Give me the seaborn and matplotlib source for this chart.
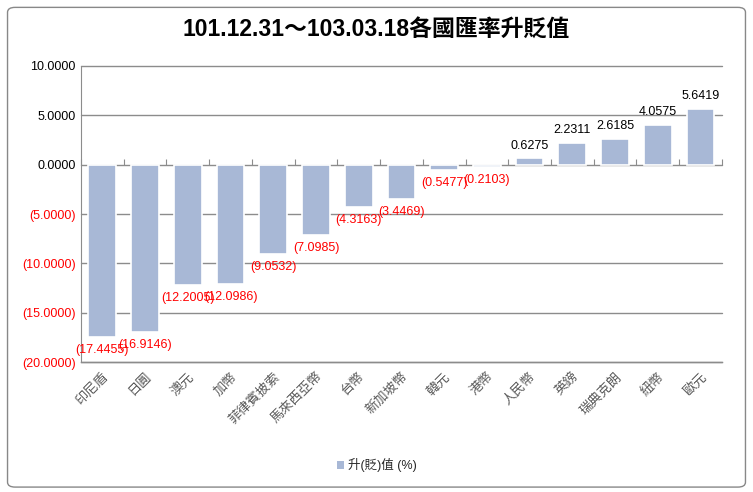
import matplotlib
matplotlib.use("Agg")
import matplotlib.pyplot as plt
import seaborn as sns
import pandas as pd
from matplotlib.patches import FancyBboxPatch, Patch

# data
currencies = ['印尼盾', '日圓', '澳元', '加幣', '菲律賓披索', '馬來西亞幣', '台幣', '新加坡幣',
              '韓元', '港幣', '人民幣', '英鎊', '瑞典克朗', '紐幣', '歐元']
change = [-17.4455, -16.9146, -12.2005, -12.0986, -9.0532, -7.0985, -4.3163, -3.4469,
          -0.5477, -0.2103, 0.6275, 2.2311, 2.6185, 4.0575, 5.6419]
y_ticks = [10, 5, 0, -5, -10, -15, -20]
series_name = '升(貶)值 (%)'

df = pd.DataFrame({'currency': currencies, 'change': change})

sns.set_style('white')
plt.rcParams['font.family'] = ['Liberation Sans', 'Noto Sans CJK TC', 'DejaVu Sans']

bar_color = '#A8B8D6'

fig = plt.figure(figsize=(7.53, 4.92), dpi=100)
ax = fig.add_axes([0.1076, 0.264, 0.851, 0.602])

sns.barplot(data=df, x='currency', y='change', color=bar_color, width=0.65,
            edgecolor='white', linewidth=1.2, saturation=1, ax=ax)

ax.set_ylim(-20, 10)
ax.set_yticks(y_ticks)
for y in y_ticks:
    ax.axhline(y, color='#8c8c8c', lw=1, zorder=0, clip_on=False)

def fmt(v):
    return f'{v:.4f}' if v >= 0 else f'({abs(v):.4f})'

ax.set_yticklabels([fmt(v) for v in y_ticks], fontsize=9)
for lab, v in zip(ax.get_yticklabels(), y_ticks):
    lab.set_color('red' if v < 0 else 'black')

ax.set_xticks(range(len(currencies)))
ax.set_xticklabels(currencies, rotation=45, ha='right', rotation_mode='anchor',
                   fontsize=9.5, color='#595959')
ax.tick_params(axis='x', length=0, pad=6)
ax.tick_params(axis='y', length=0, pad=4)
ax.set_xlabel('')
ax.set_ylabel('')
ax.set_xlim(-0.5, len(currencies) - 0.5)

for side in ['top', 'right']:
    ax.spines[side].set_visible(False)
ax.spines['left'].set_color('#8c8c8c')
ax.spines['bottom'].set_color('#8c8c8c')
ax.spines['bottom'].set_linewidth(1)

# category axis crossing at zero with tick marks between categories
zero_pos = (0 - (-20)) / 30
sec = ax.secondary_xaxis(zero_pos)
sec.set_xticks([i - 0.5 for i in range(len(currencies) + 1)])
sec.set_xticklabels([])
sec.tick_params(axis='x', direction='out', length=4, color='#8c8c8c')
sec.spines['bottom'].set_visible(False)
sec.spines['top'].set_visible(False)

labels = ax.bar_label(ax.containers[0], labels=[fmt(v) for v in change],
                      padding=5, fontsize=9)
for t, v in zip(labels, change):
    t.set_color('red' if v < 0 else 'black')

ax.set_title('101.12.31～103.03.18各國匯率升貶值', fontsize=16.5, fontweight='bold',
             color='black', pad=21)
ax.title.set_position((0.46, 1.0))

leg = fig.legend(handles=[Patch(facecolor=bar_color, edgecolor='none')], labels=[series_name],
                 loc='center', bbox_to_anchor=(0.5, 0.055), frameon=False, fontsize=9,
                 handlelength=0.6, handleheight=0.6, handletextpad=0.3)

frame = FancyBboxPatch((0.01, 0.01), 0.98, 0.975, boxstyle='round,pad=0,rounding_size=0.01',
                       transform=fig.transFigure, fill=False, edgecolor='#888888', lw=1)
fig.patches.append(frame)

fig.savefig('out.png', dpi=100)
